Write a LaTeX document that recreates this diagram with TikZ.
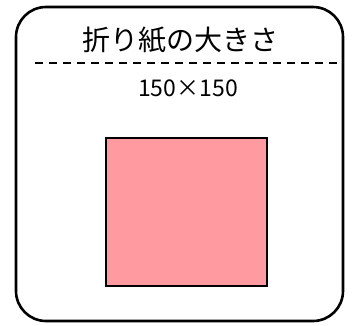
\documentclass[tikz,border=0pt]{standalone}
\usepackage{fontspec}
\setmainfont{Noto Sans CJK JP}
\usetikzlibrary{positioning}

\begin{document}
\begin{tikzpicture}[x=1pt,y=-1pt]
	\useasboundingbox (0,0) rectangle (359,325);
	\draw [line width=2.6pt, rounded corners=30pt] (16,7) rectangle (343,321);
	\node (titre) at (180,40) {\fontsize{28}{32}\selectfont 折り紙の大きさ};
	\coordinate (g) at (35,63);
	\coordinate (d) at (342,63);
	\draw [line width=2pt, dash pattern=on 8pt off 6pt] (g) -- (d);
	\node (taille) at (188,88) {\fontsize{23}{26}\selectfont 150×150};
	\node [draw, line width=1.3pt, fill={rgb,255:red,255;green,154;blue,161}, minimum width=161pt, minimum height=148pt, inner sep=0pt] (papier) at (186.5,212) {};
\end{tikzpicture}
\end{document}
